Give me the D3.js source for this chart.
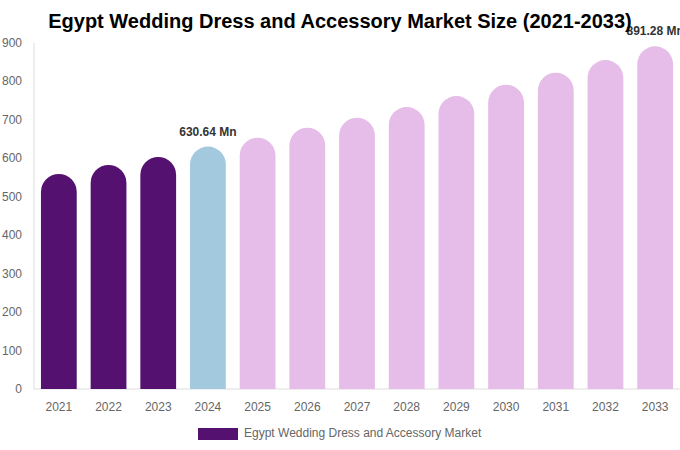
<!DOCTYPE html>
<html>
<head>
<meta charset="utf-8">
<script src="https://cdn.jsdelivr.net/npm/d3@7"></script>
<style>
  body { margin: 0; background: #fff; }
  svg { font-family: "Liberation Sans", Arial, sans-serif; }
</style>
</head>
<body>
<div id="chart"></div>
<script>
// market size, Mn
const years = ["2021", "2022", "2023", "2024", "2025", "2026", "2027", "2028", "2029", "2030", "2031", "2032", "2033"];
const values = [559.3, 582.7, 603.5, 630.64, 653.7, 679.7, 705.7, 733.5, 762.1, 791.5, 822.7, 855.8, 891.28];
const yTicks = [0, 100, 200, 300, 400, 500, 600, 700, 800, 900];
const labelled = ["2024", "2033"];
const seriesName = "Egypt Wedding Dress and Accessory Market";

const width = 680, height = 450;
const margin = { top: 43, right: 0, bottom: 61, left: 34 };

const svg = d3.select("#chart").append("svg")
  .attr("width", width)
  .attr("height", height);

const x = d3.scaleBand()
  .domain(years)
  .range([margin.left, width - margin.right])
  .paddingInner(0.28)
  .paddingOuter(0.14);

const y = d3.scaleLinear()
  .domain([0, 900])
  .range([height - margin.bottom, margin.top]);

function barColor(yr) {
  if (+yr < 2024) return "#541170";
  if (+yr === 2024) return "#a3c9df";
  return "#e6bce8";
}

// axis lines
svg.append("line")
  .attr("x1", margin.left).attr("x2", margin.left)
  .attr("y1", y(900)).attr("y2", y(0))
  .attr("stroke", "#ddd");

svg.append("line")
  .attr("x1", margin.left).attr("x2", width)
  .attr("y1", y(0)).attr("y2", y(0))
  .attr("stroke", "#ddd");

// y labels
svg.selectAll(".ytick")
  .data(yTicks)
  .enter().append("text")
  .attr("class", "ytick")
  .attr("x", 22)
  .attr("y", d => y(d) + 4)
  .attr("text-anchor", "end")
  .attr("font-size", 12)
  .attr("fill", "#666")
  .text(d => d);

// x labels
svg.selectAll(".xtick")
  .data(years)
  .enter().append("text")
  .attr("class", "xtick")
  .attr("x", d => x(d) + x.bandwidth() / 2)
  .attr("y", y(0) + 22)
  .attr("text-anchor", "middle")
  .attr("font-size", 12)
  .attr("fill", "#666")
  .text(d => d);

// bars with a round top
function barPath(yr, v) {
  const x0 = x(yr), w = x.bandwidth(), r = w / 2;
  const top = y(v), bottom = y(0);
  return `M${x0},${bottom} L${x0},${top + r} A${r},${r} 0 0 1 ${x0 + w},${top + r} L${x0 + w},${bottom} Z`;
}

svg.selectAll(".bar")
  .data(years)
  .enter().append("path")
  .attr("class", "bar")
  .attr("d", (d, i) => barPath(d, values[i]))
  .attr("fill", d => barColor(d));

// value labels
svg.selectAll(".vlabel")
  .data(years.filter(d => labelled.includes(d)))
  .enter().append("text")
  .attr("class", "vlabel")
  .attr("x", d => x(d) + x.bandwidth() / 2)
  .attr("y", d => y(values[years.indexOf(d)]) - 11)
  .attr("text-anchor", "middle")
  .attr("font-size", 12)
  .attr("font-weight", "bold")
  .attr("fill", "#333")
  .text(d => values[years.indexOf(d)].toFixed(2) + " Mn");

// title
svg.append("text")
  .attr("x", width / 2)
  .attr("y", 28)
  .attr("text-anchor", "middle")
  .attr("font-size", 20)
  .attr("font-weight", "bold")
  .attr("fill", "#000")
  .text("Egypt Wedding Dress and Accessory Market Size (2021-2033)");

// legend
svg.append("rect")
  .attr("x", 198).attr("y", 428)
  .attr("width", 40).attr("height", 12)
  .attr("fill", "#541170");

svg.append("text")
  .attr("x", 244).attr("y", 437)
  .attr("font-size", 12)
  .attr("fill", "#666")
  .text(seriesName);
</script>
</body>
</html>
